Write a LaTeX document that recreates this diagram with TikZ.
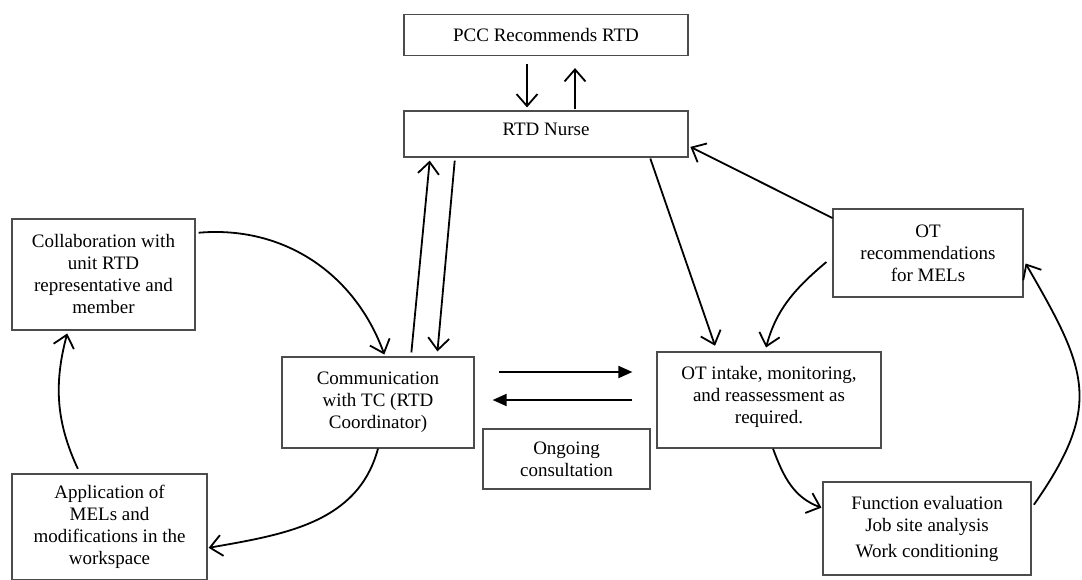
\documentclass[tikz,border=0pt]{standalone}
\usepackage{fontspec}
\setmainfont{Liberation Serif}
\usetikzlibrary{arrows.meta}
\newcommand\boxfont{\fontsize{19}{22}\selectfont}
\begin{document}
\begin{tikzpicture}[x=1pt,y=1pt,
  box/.style={draw=black!70, line width=1.2pt, inner sep=0pt, align=center, font=\boxfont},
  arr/.style={line width=1.8pt, -{Straight Barb[length=12pt,width=21pt]}},
  harr/.style={line width=1.8pt, -{Triangle[length=14pt,width=12pt]}}]
\useasboundingbox (0,0) rectangle (1082,-580);
\fill[white] (0,0) rectangle (1082,-580);

\node[box, minimum width=284pt, minimum height=41pt] (pcc) at (546,-35) {PCC Recommends RTD};
\node[box, minimum width=284pt, minimum height=46pt] (nurse) at (546,-134) {RTD Nurse\\[-20pt]\strut};
\node[box, minimum width=183pt, minimum height=111pt] (collab) at (103.5,-274.5) {Collaboration with\\unit RTD\\representative and\\member};
\node[box, minimum width=195pt, minimum height=106pt] (app) at (109.5,-527) {Application of\\MELs and\\modifications in the\\workspace};
\node[box, minimum width=192pt, minimum height=91pt] (comm) at (378,-402.5) {Communication\\with TC (RTD\\Coordinator)};
\node[box, minimum width=167pt, minimum height=60pt] (ongoing) at (566.5,-459) {Ongoing\\consultation};
\node[box, minimum width=224pt, minimum height=96pt] (intake) at (769,-400) {OT intake, monitoring,\\and reassessment as\\required.\\[-18pt]\strut};
\node[box, minimum width=190pt, minimum height=88pt] (recs) at (928,-253) {OT\\recommendations\\for MELs};
\node[box, minimum width=208pt, minimum height=93pt] (func) at (927,-528.5) {Function evaluation\\Job site analysis\\[4pt]Work conditioning};

% PCC <-> Nurse
\draw[arr, shorten <=8pt, shorten >=3pt] ([xshift=-19pt]pcc.south) -- ([xshift=-19pt]nurse.north);
\draw[arr, shorten <=1pt, shorten >=12pt] ([xshift=29pt]nurse.north) -- ([xshift=29pt]pcc.south);

% Comm <-> Nurse
\draw[arr, shorten <=4pt, shorten >=3pt] ([xshift=33pt]comm.north) -- ([xshift=-116pt]nurse.south);
\draw[arr, shorten <=3pt, shorten >=5pt] ([xshift=-91pt]nurse.south) -- ([xshift=59pt]comm.north);

% Nurse -> intake
\draw[arr, shorten <=1pt, shorten >=6pt] ([xshift=104pt]nurse.south) -- ([xshift=-52pt]intake.north);

% recs -> nurse
\draw[arr, shorten >=2pt] ([yshift=35pt]recs.west) -- ([yshift=-12pt]nurse.east);

% recs -> intake
\draw[arr, shorten >=4pt] ([xshift=-6pt,yshift=-9pt]recs.west) to[out=-140,in=75] ([xshift=-4pt]intake.north);

% intake -> func
\draw[arr, shorten >=1pt] ([xshift=4pt]intake.south) to[out=-70,in=160] ([yshift=20.5pt]func.west);

% func -> recs
\draw[arr, shorten <=4pt, shorten >=4pt] ([yshift=20.5pt]func.east) to[out=55,in=-60,looseness=1.3] ([yshift=-7pt]recs.east);

% comm -> app
\draw[arr, shorten >=1pt] (comm.south) to[out=-105,in=10] ([yshift=-21pt]app.east);

% app -> collab
\draw[arr, shorten <=5pt, shorten >=3pt] ([xshift=-29.5pt]app.north) to[out=115,in=-105] ([xshift=-35.5pt]collab.south);

% collab -> comm
\draw[arr, shorten <=3pt, shorten >=2pt] ([yshift=41.5pt]collab.east) to[out=5,in=110] ([xshift=7pt]comm.north);

% horizontal arrows
\draw[harr, shorten <=24pt, shorten >=24pt] ([yshift=30.5pt]comm.east) -- ([yshift=28pt]intake.west);
\draw[harr, shorten <=24pt, shorten >=18pt] ([yshift=0pt]intake.west) -- ([yshift=2.5pt]comm.east);
\end{tikzpicture}
\end{document}
